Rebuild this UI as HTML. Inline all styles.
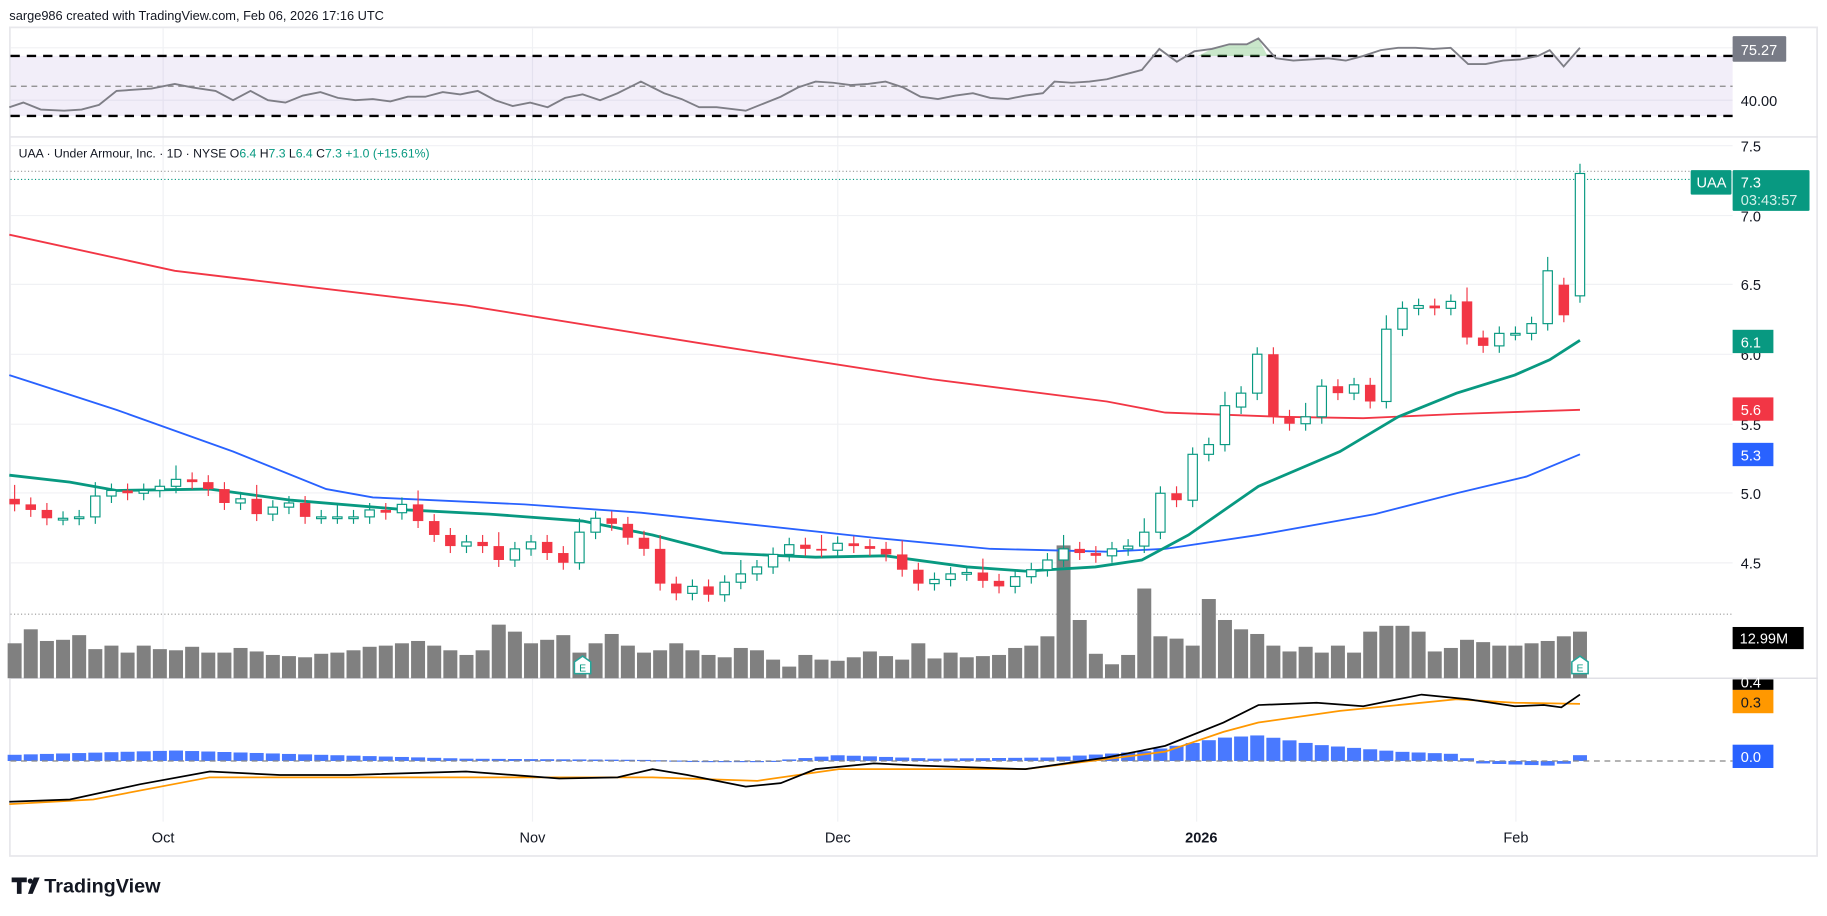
<!DOCTYPE html>
<html><head><meta charset="utf-8"><style>
html,body{margin:0;padding:0;background:#fff;}
svg{display:block;font-family:"Liberation Sans",sans-serif;}
</style></head><body>
<svg id="s" width="1827" height="916" viewBox="0 0 1568 786" preserveAspectRatio="none" xmlns="http://www.w3.org/2000/svg">
<rect x="0" y="0" width="1568" height="786" fill="#fff"/>
<text x="8" y="17" font-size="11" fill="#131722">sarge986 created with TradingView.com, Feb 06, 2026 17:16 UTC</text>
<rect x="8.5" y="23.5" width="1551" height="711" fill="#fff" stroke="#e8e8ec" stroke-width="1.5"/>
<g stroke="#f0f1f4" stroke-width="1">
<line x1="140" y1="24" x2="140" y2="705"/><line x1="457" y1="24" x2="457" y2="705"/><line x1="719" y1="24" x2="719" y2="705"/><line x1="1027" y1="24" x2="1027" y2="705"/><line x1="1301" y1="24" x2="1301" y2="705"/>
<line x1="9" y1="41" x2="1487" y2="41"/><line x1="9" y1="86" x2="1487" y2="86"/>
<line x1="9" y1="125" x2="1487" y2="125"/><line x1="9" y1="185" x2="1487" y2="185"/><line x1="9" y1="244" x2="1487" y2="244"/><line x1="9" y1="304" x2="1487" y2="304"/><line x1="9" y1="364" x2="1487" y2="364"/><line x1="9" y1="423" x2="1487" y2="423"/><line x1="9" y1="483" x2="1487" y2="483"/>
</g>
<rect x="9" y="48" width="1478" height="51.5" fill="#7e57c2" fill-opacity="0.1"/>
<line x1="9" y1="74" x2="1487" y2="74" stroke="#888" stroke-dasharray="5,4" stroke-width="1"/>
<line x1="9" y1="48" x2="1487" y2="48" stroke="#000" stroke-dasharray="8,6" stroke-width="2"/>
<line x1="9" y1="99.5" x2="1487" y2="99.5" stroke="#000" stroke-dasharray="8,6" stroke-width="2"/>
<polygon points="1028,48 1040,42 1055,38 1070,38 1080,33 1088,48" fill="#4caf50" fill-opacity="0.3"/>
<polyline id="rsi" fill="none" stroke="#7e7e86" stroke-width="1.6"/>
<line x1="9" y1="117.5" x2="1560" y2="117.5" stroke="#e0e0e6" stroke-width="1.2"/>
<line x1="9" y1="582" x2="1560" y2="582" stroke="#e0e0e6" stroke-width="1.2"/>
<text x="16" y="135" font-size="10.5" fill="#131722">UAA · Under Armour, Inc. · 1D · NYSE <tspan>O</tspan><tspan fill="#089981">6.4</tspan> H<tspan fill="#089981">7.3</tspan> L<tspan fill="#089981">6.4</tspan> C<tspan fill="#089981">7.3</tspan> <tspan fill="#089981">+1.0 (+15.61%)</tspan></text>
<line x1="9" y1="147" x2="1487" y2="147" stroke="#999" stroke-dasharray="1,2" stroke-width="1"/>
<line x1="9" y1="154" x2="1487" y2="154" stroke="#089981" stroke-dasharray="1,2" stroke-width="1"/>
<line x1="9" y1="527" x2="1487" y2="527" stroke="#999" stroke-dasharray="1,2" stroke-width="1"/>
<g id="vol"></g>
<polyline id="ma200" fill="none" stroke="#f23645" stroke-width="1.6"/>
<polyline id="ma50" fill="none" stroke="#2962ff" stroke-width="1.6"/>
<polyline id="ma20" fill="none" stroke="#089981" stroke-width="2.4"/>
<g id="candles"></g>
<g font-size="9" fill="#089981" text-anchor="middle">
<path d="M493,568 L500,563 L507,568 L507,578 L493,578 Z" fill="#fff" stroke="#26a69a" stroke-width="1.3"/><text x="500" y="576">E</text>
<path d="M1349,568 L1356,563 L1363,568 L1363,578 L1349,578 Z" fill="#fff" stroke="#26a69a" stroke-width="1.3"/><text x="1356" y="576">E</text>
</g>
<g id="hist"></g>
<line x1="9" y1="653" x2="1487" y2="653" stroke="#888" stroke-dasharray="5,4" stroke-width="1"/>
<polyline fill="none" stroke="#ff9800" stroke-width="1.5" points="8,690 80,686 180,667 300,667 400,667 560,667 650,670 720,660 880,660 1000,645 1050,628 1080,620 1150,610 1250,600 1300,603 1356,604"/>
<polyline fill="none" stroke="#000" stroke-width="1.5" points="8,688 60,686 120,673 180,662 240,665 300,665 400,662 480,668 530,667 560,660 590,665 640,675 670,672 700,660 750,655 790,657 880,660 950,650 1000,640 1050,620 1080,605 1130,603 1170,606 1220,596 1260,600 1300,606 1325,605 1340,607 1356,596"/>
<g font-size="12.5" fill="#131722">
<text x="1494" y="130">7.5</text><text x="1494" y="190">7.0</text><text x="1494" y="249">6.5</text><text x="1494" y="309">6.0</text><text x="1494" y="369">5.5</text><text x="1494" y="428">5.0</text><text x="1494" y="488">4.5</text>
<text x="1494" y="91">40.00</text>
</g>
<rect x="1487" y="31" width="46" height="22" fill="#787b86" rx="1"/><text x="1494" y="47" font-size="12.5" fill="#fff">75.27</text>
<rect x="1451" y="146" width="35" height="21" fill="#089981" rx="1"/><text x="1456" y="161" font-size="12.5" fill="#fff">UAA</text>
<rect x="1487" y="146" width="66" height="35" fill="#089981" rx="1"/><text x="1494" y="161" font-size="12.5" fill="#fff">7.3</text><text x="1494" y="176" font-size="12.5" fill="#d4f0ea">03:43:57</text>
<rect x="1487" y="283" width="35" height="20" fill="#089981"/><text x="1494" y="298" font-size="12.5" fill="#fff">6.1</text>
<rect x="1487" y="341" width="35" height="20" fill="#f23645"/><text x="1494" y="356" font-size="12.5" fill="#fff">5.6</text>
<rect x="1487" y="380" width="35" height="20" fill="#2962ff"/><text x="1494" y="395" font-size="12.5" fill="#fff">5.3</text>
<rect x="1487" y="538" width="61" height="19" fill="#000"/><text x="1493" y="552" font-size="12.5" fill="#fff">12.99M</text>
<rect x="1487" y="583" width="35" height="9" fill="#000"/><text x="1494" y="590" font-size="12.5" fill="#fff">0.4</text>
<rect x="1487" y="592" width="35" height="20" fill="#ff9800"/><text x="1494" y="607" font-size="12.5" fill="#131722">0.3</text>
<rect x="1487" y="639" width="35" height="20" fill="#2962ff"/><text x="1494" y="654" font-size="12.5" fill="#fff">0.0</text>
<g font-size="12.5" fill="#131722" text-anchor="middle">
<text x="140" y="723">Oct</text><text x="457" y="723">Nov</text><text x="719" y="723">Dec</text><text x="1031" y="723" font-weight="bold">2026</text><text x="1301" y="723">Feb</text>
</g>
<g fill="#131722"><path d="M10,753 h13 v4 h-4.5 v10 h-4 v-10 h-4.5z"/><circle cx="26" cy="756" r="2.2"/><path d="M29,753 h5 l-6,14 h-4z"/></g>
<text x="38" y="766" font-size="17" font-weight="bold" fill="#131722">TradingView</text>
</svg>
<script>
var NS="http://www.w3.org/2000/svg";
function py(p){return 125+(7.5-p)*119.3;}
var closes0=[4.92,4.88,4.82,4.85,4.82,4.85,4.83,4.98,5.02,5.0,5.02,5.05,5.1,5.08,5.03,4.93,4.96,4.9,4.85,4.83,4.9,4.93,4.85,4.83,4.8,4.83,4.79,4.83,4.8,4.83,4.88,4.86,4.92,4.8,4.7,4.62,4.58,4.65,4.62,4.55,4.52,4.6,4.65,4.57,4.67,4.5,4.67,4.72,4.82,4.78,4.68,4.6,4.35,4.28,4.33,4.27,4.36,4.42,4.47,4.56,4.63,4.6,4.59,4.64,4.62,4.6,4.56,4.45,4.35,4.38,4.42,4.43,4.37,4.33,4.4,4.45,4.52,4.6,4.57,4.55,4.6,4.62,4.72,5.0,4.95,5.28,5.35,5.63,5.72,6.0,5.55,5.5,5.55,5.77,5.72,5.78,5.66,6.18,6.33,6.35,6.33,6.38,6.12,6.06,6.15,6.15,6.22,6.6,6.28,7.3];
var vol0=[30,42,32,36,33,30,37,25,28,22,28,25,24,27,22,22,26,22,23,16,20,19,22,18,17,21,20,22,20,24,27,28,30,32,28,24,26,20,24,36,46,40,30,33,36,37,28,22,30,38,28,22,24,30,24,20,18,26,24,16,10,20,16,15,18,23,19,16,30,17,22,18,19,20,26,28,36,114,50,21,12,20,77,36,34,28,68,50,42,38,28,23,27,22,28,22,40,45,45,40,23,26,33,31,28,28,30,32,36,40,34];
var R={3:1,5:1,17:1,19:1,22:1,24:1,26:1,28:1,36:1,39:1,44:1,46:1};
var closes=[],vol=[];
for(var i=0;i<closes0.length;i++){if(!R[i]){closes.push(closes0[i]);vol.push(vol0[i]);}}
var opens=closes.map(function(c,i){return i?closes[i-1]:4.96;});
var n=closes.length;
opens[n-1]=6.42; opens[n-2]=6.5; opens[76]=5.62; opens[89]=6.33;
var x1=1356, dx=13.85, x0=x1-(n-1)*dx;
var cg=document.getElementById('candles'), vg=document.getElementById('vol'), hg=document.getElementById('hist');
function el(t,a,p){var e=document.createElementNS(NS,t);for(var k in a)e.setAttribute(k,a[k]);p.appendChild(e);return e;}
for(var i=0;i<n;i++){
 var x=x0+i*dx,o=opens[i],c=closes[i],up=c>=o;
 var hi=Math.max(o,c)+0.05+(i==n-1?0.02:0)+((i*7)%5==0?0.05:0),lo=Math.min(o,c)-0.05;
 var col=up?'#089981':'#f23645';
 var v=vol[i]||25; el('rect',{x:x-6,y:582-v,width:12,height:v,fill:'#808080'},vg);
 el('line',{x1:x,x2:x,y1:py(hi),y2:py(lo),stroke:col,'stroke-width':1},cg);
 var yt=py(Math.max(o,c)),h=Math.max(1.5,py(Math.min(o,c))-yt);
 if(up) el('rect',{x:x-4,y:yt,width:8,height:h,fill:'#fff',stroke:col,'stroke-width':1},cg);
 else el('rect',{x:x-4.5,y:yt,width:9,height:h,fill:col},cg);
}
function interp(pts,x){for(var j=1;j<pts.length;j++){if(x<=pts[j][0]){var a=pts[j-1],b=pts[j];return a[1]+(b[1]-a[1])*(x-a[0])/(b[0]-a[0]);}}return pts[pts.length-1][1];}
var hp=[[0,5],[150,9],[250,6],[400,2],[550,1],[650,-1],[720,5],[800,2],[900,3],[980,8],[1050,20],[1080,22],[1130,14],[1200,8],[1250,6],[1270,-2],[1330,-4],[1345,-2],[1356,5]];
for(var i=0;i<n;i++){var x=x0+i*dx,h=interp(hp,x);
 el('rect',{x:x-6,y:h>0?653-h:653,width:12,height:Math.max(1,Math.abs(h)),fill:'#2962ff',opacity:0.85},hg);}
function line(id,pts){document.getElementById(id).setAttribute('points',pts.map(function(p){return p[0]+','+py(p[1]);}).join(' '));}
line('ma200',[[8,6.86],[150,6.6],[400,6.35],[600,6.08],[800,5.82],[950,5.66],[1000,5.58],[1100,5.55],[1170,5.54],[1250,5.57],[1356,5.6]]);
line('ma50',[[8,5.85],[100,5.6],[200,5.3],[280,5.03],[320,4.97],[450,4.92],[550,4.86],[650,4.77],[750,4.68],[850,4.6],[950,4.58],[1000,4.6],[1080,4.7],[1180,4.85],[1250,5.0],[1310,5.12],[1356,5.28]]);
line('ma20',[[8,5.13],[60,5.08],[100,5.02],[180,5.03],[250,4.95],[350,4.88],[420,4.85],[500,4.8],[560,4.7],[620,4.57],[700,4.54],[760,4.55],[830,4.47],[880,4.44],[940,4.47],[980,4.52],[1020,4.7],[1080,5.05],[1150,5.3],[1200,5.55],[1250,5.72],[1300,5.85],[1330,5.96],[1356,6.1]]);
var rsi=[[8,92],[20,88],[35,94],[55,95],[70,94],[85,90],[100,78],[115,77],[130,76],[150,72],[165,75],[185,78],[200,86],[215,78],[230,86],[245,88],[260,82],[275,79],[290,84],[305,86],[320,85],[335,87],[350,83],[365,83],[380,79],[395,81],[410,78],[425,86],[440,91],[455,88],[470,92],[485,84],[500,81],[515,86],[530,80],[550,70],[570,80],[585,85],[600,92],[615,92],[640,95],[655,89],[670,83],[685,75],[700,70],[715,71],[730,73],[745,72],[760,70],[775,75],[790,83],[805,85],[820,82],[835,80],[850,84],[865,85],[880,82],[895,80],[905,70],[920,71],[935,70],[950,68],[965,64],[980,60],[995,42],[1010,53],[1025,44],[1040,42],[1055,38],[1070,38],[1080,33],[1095,50],[1110,52],[1125,51],[1140,50],[1155,52],[1170,48],[1185,43],[1200,41],[1215,41],[1230,42],[1245,41],[1260,55],[1275,55],[1290,52],[1305,51],[1320,48],[1330,43],[1342,57],[1356,41]];
document.getElementById('rsi').setAttribute('points',rsi.map(function(p){return p.join(',');}).join(' '));
</script>
</body></html>
